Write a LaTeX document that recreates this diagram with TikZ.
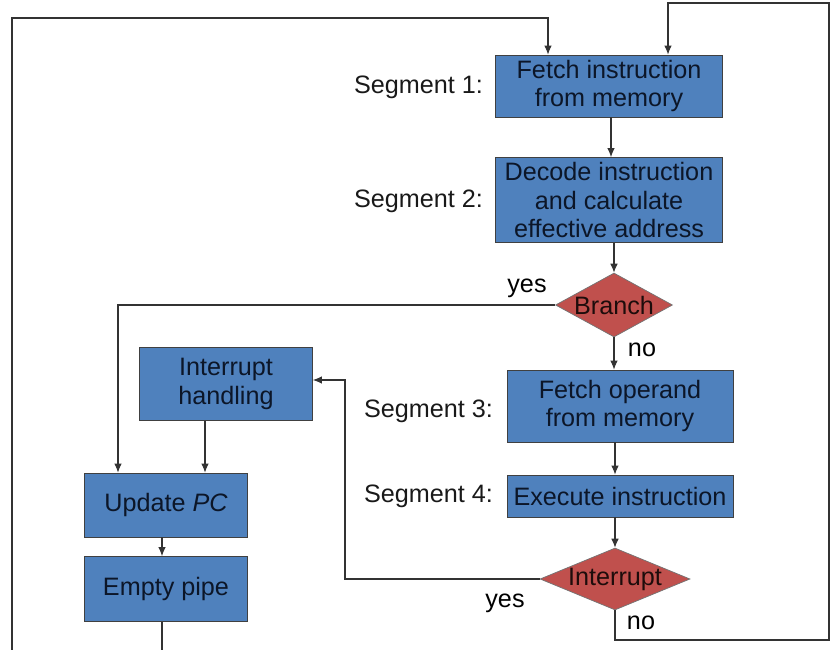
\documentclass[tikz,border=0pt]{standalone}
\usepackage{fontspec}
\setmainfont{Liberation Sans}
\usetikzlibrary{arrows.meta}
\usetikzlibrary{shapes.geometric}
\usetikzlibrary{positioning}
\definecolor{mblue}{RGB}{79,129,189}
\definecolor{mred}{RGB}{192,80,77}
\definecolor{mtext}{RGB}{12,22,40}

\begin{document}
\begin{tikzpicture}[x=0.03cm, y=-0.03cm,
    font=\fontsize{21.5}{24.5}\selectfont,
    stage/.style={draw=black!75, fill=mblue, text=mtext, align=center, inner sep=0pt, line width=0.8pt},
    test/.style={diamond, draw=black!55, fill=mred, inner sep=0pt, line width=0.6pt, label={[text=black!85!mred]center:#1}},
    flow/.style={black!80, line width=0.9pt, -{Latex[length=2.7mm, width=2.3mm]}},
    link/.style={black!80, line width=0.9pt},
    seg/.style={anchor=east, text=black!90}]
    \useasboundingbox (0, 0) rectangle (830, 650);

    % pipeline segments
    \node [stage, minimum width=6.81cm, minimum height=1.86cm] (fetch) at (609, 86) {Fetch instruction\\from memory};
    \node [stage, minimum width=6.81cm, minimum height=2.55cm] (decode) at (609, 200) {Decode instruction\\and calculate\\effective address};
    \node [test=Branch, minimum width=3.51cm, minimum height=1.92cm] (branch) at (614, 305) {};
    \node [stage, minimum width=6.78cm, minimum height=2.16cm] (operand) at (620, 406) {Fetch operand\\from memory};
    \node [stage, minimum width=6.78cm, minimum height=1.26cm] (execute) at (620, 496) {Execute instruction};
    \node [test=Interrupt, minimum width=4.5cm, minimum height=1.86cm] (intr) at (615, 579) {};

    % left side
    \node [stage, minimum width=5.19cm, minimum height=2.19cm] (handle) at (226, 384) {Interrupt\\handling};
    \node [stage, minimum width=4.89cm, minimum height=1.92cm] (update) at (166, 505) {Update \textit{PC}};
    \node [stage, minimum width=4.89cm, minimum height=1.95cm] (pipe) at (166, 589) {Empty pipe};

    \node [seg] (seg1) at (487, 87) {Segment 1:};
    \node [seg] (seg2) at (487, 201) {Segment 2:};
    \node [seg] (seg3) at (497, 411) {Segment 3:};
    \node [seg] (seg4) at (497, 496) {Segment 4:};

    \node (byes) at (527, 288) {yes};
    \node (bno) at (642, 350) {no};
    \node (iyes) at (505, 603) {yes};
    \node (ino) at (641, 623) {no};

    \coordinate (bl) at (12, 650);
    \coordinate (tl) at (12, 18);
    \coordinate (in1) at (548, 0);
    \coordinate (in2) at (668, 0);
    \coordinate (br) at (829, 640);
    \coordinate (tr) at (829, 3);
    \coordinate (upin) at (118, 0);
    \coordinate (hdown) at (205, 0);
    \coordinate (back) at (345, 380);

    \draw [flow] (fetch.south -| 611, 0) -- (decode.north -| 611, 0);
    \draw [flow] (decode.south -| branch) -- (branch.north);
    \draw [flow] (branch.south) -- (branch.south |- operand.north);
    \draw [flow] (operand.south -| intr) -- (execute.north -| intr);
    \draw [flow] (execute.south -| intr) -- (intr.north);

    \draw [flow] (branch.west) -| (upin |- update.north);
    \draw [flow] (hdown |- handle.south) -- (hdown |- update.north);
    \draw [flow] (update.south -| 162, 0) -- (pipe.north -| 162, 0);
    \draw [flow] (intr.west) -| (back) -- (back -| handle.east);

    \draw [link] (pipe.south -| 162, 0) -- (bl -| 162, 0);
    \draw [flow] (bl) -- (tl) -| (in1 |- fetch.north);
    \draw [flow] (intr.south) |- (br) -- (tr) -| (in2 |- fetch.north);
  \end{tikzpicture}
\end{document}
